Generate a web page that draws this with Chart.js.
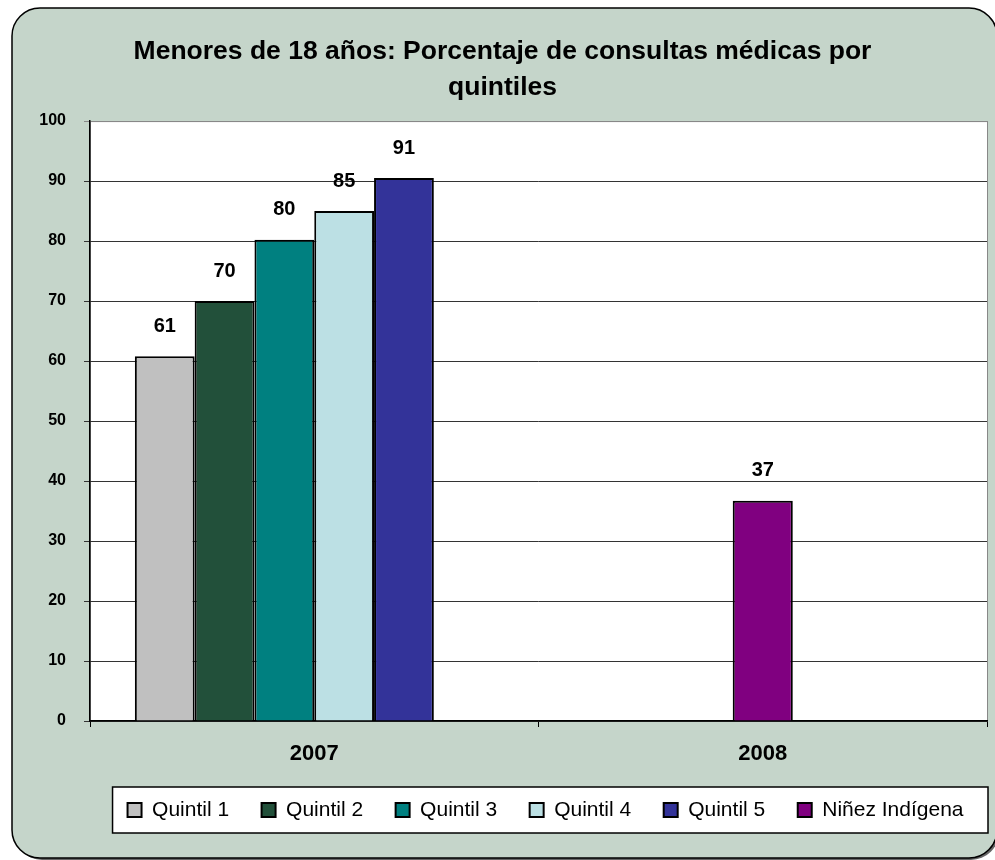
<!DOCTYPE html>
<html lang="es">
<head>
<meta charset="UTF-8">
<title>Menores de 18 años: Porcentaje de consultas médicas por quintiles</title>
<style>
    html, body { margin: 0; padding: 0; background: #ffffff; }
    .chart-container { position: relative; width: 995px; height: 860px; }
</style>
</head>
<body>
<div class="chart-container">
    <canvas id="myChart" width="995" height="860"></canvas>
</div>

<script src="https://cdn.jsdelivr.net/npm/chart.js@4.4.0/dist/chart.umd.min.js"></script>
<script>
    // Data
    const years = ['2007', '2008'];
    const seriesNames = ['Quintil 1', 'Quintil 2', 'Quintil 3', 'Quintil 4', 'Quintil 5', 'Niñez Indígena'];
    const quintil1 = [60.8, null];
    const quintil2 = [70.0, null];
    const quintil3 = [80.2, null];
    const quintil4 = [85.0, null];
    const quintil5 = [90.5, null];
    const ninezIndigena = [null, 36.7];
    const yTickValues = [0, 10, 20, 30, 40, 50, 60, 70, 80, 90, 100];

    const seriesValues = [quintil1, quintil2, quintil3, quintil4, quintil5, ninezIndigena];
    const seriesColors = ['#C0C0C0', '#22503A', '#008080', '#BCE0E4', '#333399', '#800080'];

    Chart.defaults.font.family = '"Liberation Sans", Arial, sans-serif';
    Chart.defaults.color = '#000';

    // rounded green panel, white plot area and boxed legend
    const framePlugin = {
        id: 'frame',
        afterLayout(chart) {
            // legend row sits a little right of the plain "end" alignment
            chart.legend.left += 9;
            chart.legend.right += 9;
        },
        beforeDraw(chart) {
            const { ctx, chartArea: a, legend } = chart;
            ctx.save();
            ctx.fillStyle = '#ffffff';
            ctx.fillRect(0, 0, chart.width, chart.height);

            const x = 12, y = 8, w = 985, h = 850, r = 28;
            ctx.beginPath();
            ctx.moveTo(x + r, y);
            ctx.arcTo(x + w, y, x + w, y + h, r);
            ctx.arcTo(x + w, y + h, x, y + h, r);
            ctx.arcTo(x, y + h, x, y, r);
            ctx.arcTo(x, y, x + w, y, r);
            ctx.closePath();
            ctx.shadowColor = 'rgba(0,0,0,0.6)';
            ctx.shadowOffsetX = 2;
            ctx.shadowOffsetY = 2;
            ctx.fillStyle = '#C5D5CA';
            ctx.fill();
            ctx.shadowColor = 'transparent';
            ctx.lineWidth = 1.5;
            ctx.strokeStyle = '#000';
            ctx.stroke();

            ctx.fillStyle = '#ffffff';
            ctx.fillRect(a.left, a.top, a.width, a.height);
            ctx.strokeStyle = '#888';
            ctx.lineWidth = 1;
            ctx.strokeRect(a.left + 0.5, a.top + 0.5, a.width, a.height);

            const hb = legend.legendHitBoxes;
            if (hb && hb.length) {
                const lx = hb[0].left - 15;
                const ly = hb[0].top - 12.5;
                const lw = a.right + 1 - lx;
                const lh = hb[0].height + 25;
                ctx.fillStyle = '#ffffff';
                ctx.fillRect(lx, ly, lw, lh);
                ctx.strokeStyle = '#000';
                ctx.lineWidth = 1.5;
                ctx.strokeRect(lx, ly, lw, lh);
            }
            ctx.restore();
        }
    };

    // value labels above each bar
    const valueLabels = {
        id: 'valueLabels',
        afterDatasetsDraw(chart) {
            const ctx = chart.ctx;
            ctx.save();
            ctx.font = 'bold 20px "Liberation Sans", Arial, sans-serif';
            ctx.fillStyle = '#000';
            ctx.textAlign = 'center';
            ctx.textBaseline = 'middle';
            chart.data.datasets.forEach((ds, i) => {
                chart.getDatasetMeta(i).data.forEach((bar, j) => {
                    const v = ds.data[j];
                    if (v === null || v === undefined) return;
                    ctx.fillText(Math.round(v), bar.x, bar.y - 30);
                });
            });
            ctx.restore();
        }
    };

    const datasets = seriesNames.map((name, i) => ({
        label: name,
        data: seriesValues[i],
        backgroundColor: seriesColors[i],
        borderColor: '#000',
        borderWidth: 2,
        categoryPercentage: 0.8,
        barPercentage: 1.0
    }));
    // the indigenous-children bar sits alone, centred in its year
    datasets[5].skipNull = true;
    datasets[5].barPercentage = 0.1675;

    var ctx = document.getElementById('myChart').getContext('2d');
    var myChart = new Chart(ctx, {
        type: 'bar',
        data: { labels: years, datasets: datasets },
        plugins: [framePlugin, valueLabels],
        options: {
            responsive: false,
            animation: false,
            layout: { padding: { left: 18, right: 8, top: 10, bottom: 29.5 } },
            scales: {
                x: {
                    offset: true,
                    grid: { drawOnChartArea: false, drawTicks: true, tickLength: 6, color: '#000', offset: true },
                    border: { display: true, color: '#000', width: 1.5 },
                    ticks: { color: '#000', font: { size: 22, weight: 'bold' }, padding: 14 },
                    afterFit(scale) { scale.height = 46; }
                },
                y: {
                    min: 0,
                    max: 100,
                    afterBuildTicks(scale) { scale.ticks = yTickValues.map(v => ({ value: v })); },
                    grid: {
                        color: c => (c.tick && c.tick.value === 100 ? '#888' : '#333'),
                        lineWidth: 1,
                        tickLength: 6
                    },
                    border: { display: true, color: '#000', width: 1.5 },
                    ticks: { color: '#000', font: { size: 16, weight: 'bold' }, padding: 18 },
                    afterFit(scale) { scale.width = 72; }
                }
            },
            plugins: {
                title: {
                    display: true,
                    text: ['Menores de 18 años: Porcentaje de consultas médicas por', 'quintiles'],
                    color: '#000',
                    font: { size: 26.5, weight: 'bold', lineHeight: 1.36 },
                    padding: { top: 24, bottom: 15 }
                },
                legend: {
                    position: 'bottom',
                    align: 'end',
                    labels: { boxWidth: 14, boxHeight: 14, padding: 32.5, color: '#000', font: { size: 21 } }
                },
                tooltip: { enabled: false }
            }
        }
    });
</script>
</body>
</html>
